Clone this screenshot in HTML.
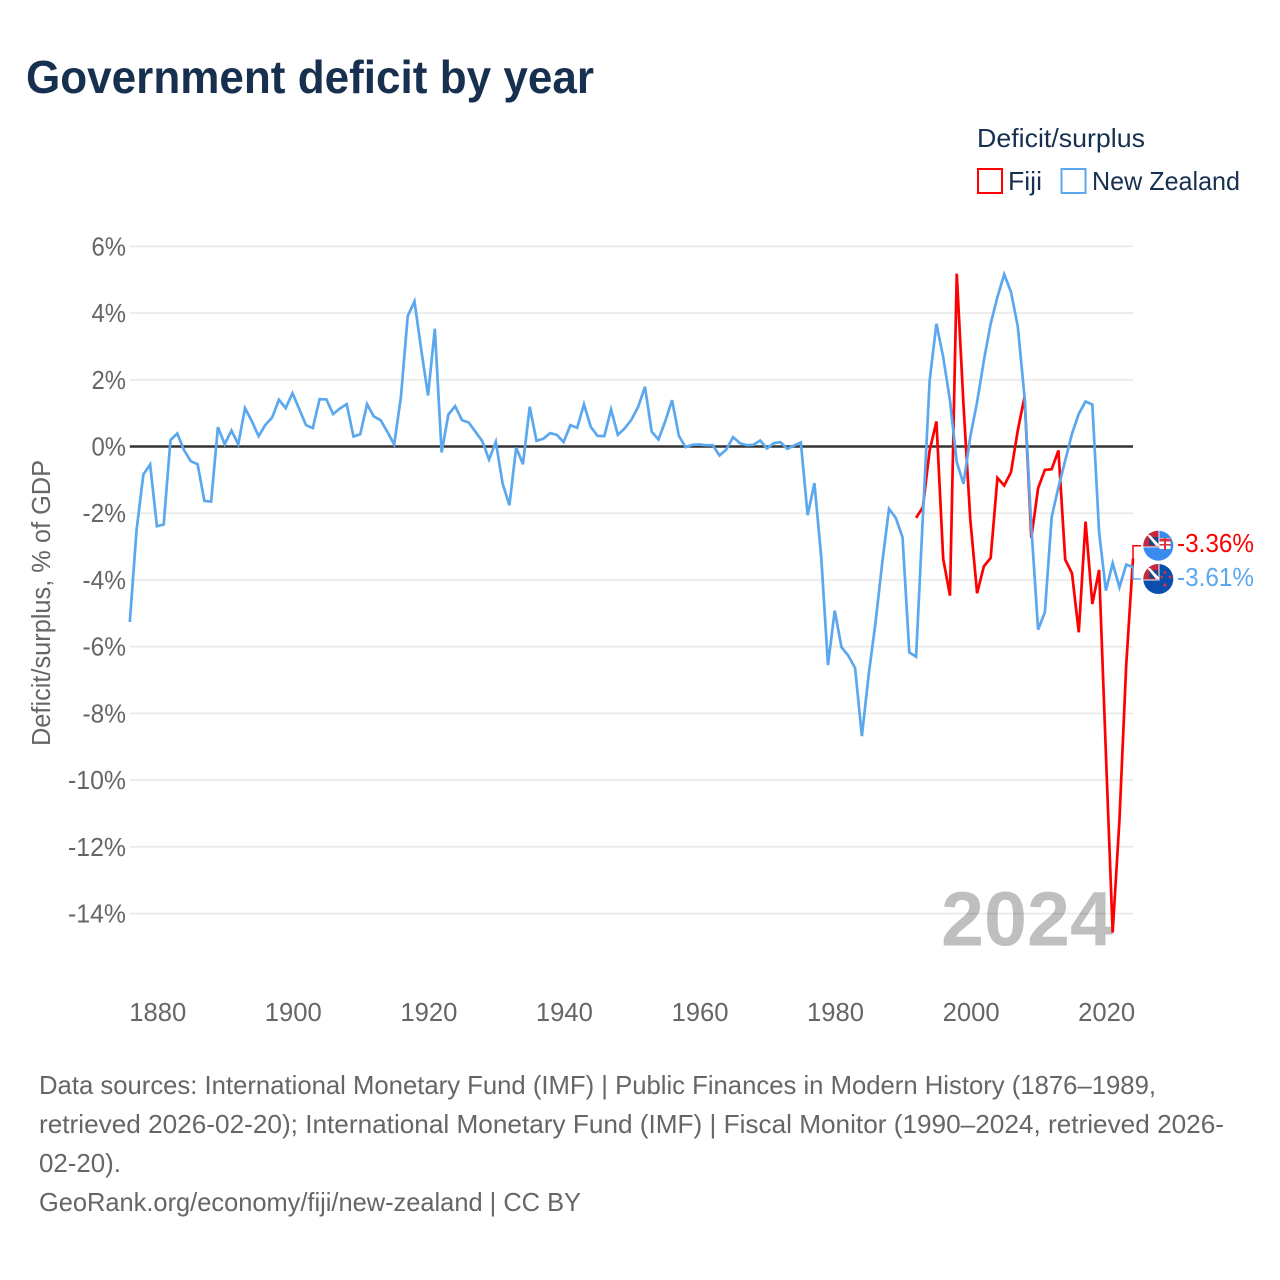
<!DOCTYPE html>
<html lang="en">
<head>
<meta charset="utf-8">
<title>Government deficit by year</title>
<style>
html,body{margin:0;padding:0;background:#fff;}
svg{display:block;font-family:"Liberation Sans",sans-serif;}
</style>
</head>
<body>
<svg id="chart" width="1280" height="1280" viewBox="0 0 1280 1280" xmlns="http://www.w3.org/2000/svg">
<defs>
<clipPath id="flag-clip-a"><circle cx="1158.300" cy="545.700" r="15"/></clipPath>
<clipPath id="flag-clip-b"><circle cx="1158.300" cy="579" r="15"/></clipPath>
</defs>
<rect width="1280" height="1280" fill="#fff"/>
<text x="26" y="93" font-size="46" font-weight="700" fill="#17304f" textLength="568" lengthAdjust="spacingAndGlyphs">Government deficit by year</text>
<text x="977" y="147" font-size="26" fill="#17304f" textLength="168" lengthAdjust="spacingAndGlyphs">Deficit/surplus</text>
<rect x="978" y="169" width="24" height="24" fill="none" stroke="#ff0000" stroke-width="2"/>
<text x="1008" y="190" font-size="26" fill="#17304f" textLength="34" lengthAdjust="spacingAndGlyphs">Fiji</text>
<rect x="1061.500" y="169" width="24" height="24" fill="none" stroke="#5ba8ef" stroke-width="2"/>
<text x="1092" y="190" font-size="26" fill="#17304f" textLength="148" lengthAdjust="spacingAndGlyphs">New Zealand</text>
<g id="grid"></g>
<g id="yticks"></g>
<g id="xticks"></g>
<text transform="translate(50 603) rotate(-90)" text-anchor="middle" font-size="25.500" fill="#666" textLength="286" lengthAdjust="spacingAndGlyphs">Deficit/surplus, % of GDP</text>
<text x="941" y="945.500" font-size="77" font-weight="700" fill="#000" fill-opacity="0.25" textLength="172" lengthAdjust="spacingAndGlyphs">2024</text>
<g id="series"></g>

<g clip-path="url(#flag-clip-a)">
<rect x="1143" y="530" width="31" height="31" fill="#3a8bf0"/>
<rect x="1143" y="530" width="16.500" height="17.500" fill="#e8f0fb"/>
<rect x="1143" y="530" width="15.500" height="16.500" fill="#c8283c"/>
<rect x="1149" y="537" width="9.500" height="8.500" fill="#23447f"/>
<polygon points="1147,535 1150,535 1158.500,544 1158.500,546 1156,546" fill="#fff"/>
<rect x="1159.500" y="538" width="11" height="11" fill="#fff"/>
<rect x="1159.500" y="538.500" width="11" height="3" fill="#d8343c"/>
<rect x="1164" y="538" width="2" height="12" fill="#d8343c"/>
<rect x="1159.500" y="544" width="11" height="1.600" fill="#d8343c"/>
</g>
<g clip-path="url(#flag-clip-b)">
<rect x="1143" y="563" width="31" height="32" fill="#0b4fae"/>
<rect x="1143" y="563" width="16.500" height="17.500" fill="#e8f0fb"/>
<rect x="1143" y="563" width="15.500" height="16.500" fill="#c8283c"/>
<rect x="1149" y="570" width="9.500" height="8.500" fill="#23447f"/>
<polygon points="1147,568 1150,568 1158.500,577 1158.500,579 1156,579" fill="#fff"/>
<circle cx="1165" cy="572.500" r="1.400" fill="#d8343c"/>
<circle cx="1161.700" cy="577" r="1.400" fill="#d8343c"/>
<circle cx="1170" cy="577" r="1.400" fill="#d8343c"/>
<circle cx="1165" cy="585" r="1.600" fill="#d8343c"/>
</g>
<text x="1177" y="552" font-size="26" fill="#ff0000" textLength="77" lengthAdjust="spacingAndGlyphs">-3.36%</text>
<text x="1177" y="586" font-size="26" fill="#5ba8ef" textLength="77" lengthAdjust="spacingAndGlyphs">-3.61%</text>

<g font-size="26" fill="#666">
<text x="39" y="1094" textLength="1117" lengthAdjust="spacingAndGlyphs">Data sources: International Monetary Fund (IMF) | Public Finances in Modern History (1876–1989,</text>
<text x="39" y="1133" textLength="1185" lengthAdjust="spacingAndGlyphs">retrieved 2026-02-20); International Monetary Fund (IMF) | Fiscal Monitor (1990–2024, retrieved 2026-</text>
<text x="39" y="1172" textLength="82" lengthAdjust="spacingAndGlyphs">02-20).</text>
<text x="39" y="1211" textLength="542" lengthAdjust="spacingAndGlyphs">GeoRank.org/economy/fiji/new-zealand | CC BY</text>
</g>
</svg>
<script>
const yTicks = [6,4,2,0,-2,-4,-6,-8,-10,-12,-14];
const yTickLabels = ["6%","4%","2%","0%","-2%","-4%","-6%","-8%","-10%","-12%","-14%"];
const xTicks = [1880,1900,1920,1940,1960,1980,2000,2020];
const nzStartYear = 1876;
const nzValues = [
-5.26,-2.50,-0.84,-0.54,-2.39,-2.34,0.19,0.39,-0.11,-0.44,
-0.53,-1.63,-1.65,0.58,0.07,0.48,0.07,1.15,0.76,0.31,
0.65,0.87,1.40,1.15,1.60,1.12,0.64,0.55,1.42,1.41,
0.97,1.14,1.27,0.30,0.37,1.27,0.90,0.79,0.44,0.06,
1.49,3.91,4.35,2.89,1.53,3.53,-0.18,0.96,1.21,0.79,
0.72,0.44,0.16,-0.39,0.14,-1.11,-1.76,-0.03,-0.53,1.19,
0.17,0.23,0.40,0.35,0.13,0.64,0.56,1.27,0.59,0.32,
0.31,1.11,0.35,0.54,0.80,1.19,1.79,0.44,0.21,0.76,
1.39,0.32,-0.02,0.05,0.06,0.04,0.04,-0.27,-0.09,0.28,
0.10,0.04,0.05,0.18,-0.06,0.10,0.13,-0.07,0.03,0.12,
-2.06,-1.10,-3.30,-6.55,-4.92,-6.02,-6.27,-6.64,-8.68,-6.85,
-5.30,-3.50,-1.87,-2.14,-2.72,-6.17,-6.30,-2.10,1.98,3.68,
2.68,1.38,-0.47,-1.12,0.30,1.33,2.58,3.68,4.48,5.16,
4.63,3.60,1.48,-2.40,-5.49,-4.97,-2.12,-1.22,-0.42,0.38,
0.98,1.35,1.26,-2.57,-4.32,-3.50,-4.22,-3.54,-3.61
];
const fijiStartYear = 1992;
const fijiValues = [
-2.14,-1.82,-0.12,0.75,-3.37,-4.47,5.18,1.22,-2.20,-4.40,
-3.59,-3.34,-0.94,-1.17,-0.77,0.48,1.50,-2.74,-1.25,-0.70,
-0.68,-0.12,-3.39,-3.80,-5.57,-2.25,-4.72,-3.70,-9.20,-14.57,
-11.20,-6.55,-3.36
];
const fijiColor = "#ff0000";
const nzColor = "#5ba8ef";
const NS = "http://www.w3.org/2000/svg";
const plotLeft = 129.8, plotRight = 1133, yearLeft = 1876, yearRight = 2024;
const zeroY = 446.5, pxPerPercent = 33.36;
function xScale(year){ return plotLeft + (year - yearLeft) * (plotRight - plotLeft) / (yearRight - yearLeft); }
function yScale(value){ return zeroY - value * pxPerPercent; }
function labelWidth(label){
  let w = 0;
  for (const c of label) w += c === '%' ? 20 : c === '-' ? 9 : 14.5;
  return w;
}
function make(tag, attrs, parent){
  const el = document.createElementNS(NS, tag);
  for (const k in attrs) el.setAttribute(k, attrs[k]);
  parent.appendChild(el);
  return el;
}
const gridG = document.getElementById('grid');
const yG = document.getElementById('yticks');
const xG = document.getElementById('xticks');
const seriesG = document.getElementById('series');
yTicks.forEach(function(v, i){
  if (v !== 0) {
    const line = make('line', {x1: plotLeft, x2: plotRight, y1: yScale(v), y2: yScale(v), stroke: '#e9e9e9', 'stroke-width': 1.6}, gridG);
    
    
  }
  const t = make('text', {x: 126, y: yScale(v) + 9, 'text-anchor': 'end', 'font-size': 26, fill: '#666', textLength: labelWidth(yTickLabels[i]), lengthAdjust: 'spacingAndGlyphs'}, yG);
  
  
  t.textContent = yTickLabels[i];
});
xTicks.forEach(function(y){
  const t = make('text', {x: xScale(y) + 0.8, y: 1021, 'text-anchor': 'middle', 'font-size': 26, fill: '#666', textLength: 57, lengthAdjust: 'spacingAndGlyphs'}, xG);
  
  
  t.textContent = String(y);
});
const zero = make('line', {x1: plotLeft, x2: plotRight, y1: yScale(0), y2: yScale(0), stroke: '#333', 'stroke-width': 2.6}, gridG);


function linePoints(start, values){
  return values.map(function(v, i){ return xScale(start + i).toFixed(2) + ',' + yScale(v).toFixed(2); }).join(' ');
}
const fijiLine = make('polyline', {points: linePoints(fijiStartYear, fijiValues), fill: 'none', stroke: fijiColor, 'stroke-width': 2.7, 'stroke-linejoin': 'miter'}, seriesG);


const nzLine = make('polyline', {points: linePoints(nzStartYear, nzValues), fill: 'none', stroke: nzColor, 'stroke-width': 2.7, 'stroke-linejoin': 'miter'}, seriesG);


const fijiEnd = yScale(fijiValues[fijiValues.length - 1]);
const nzEnd = yScale(nzValues[nzValues.length - 1]);
const fijiConn = make('polyline', {points: plotRight + ',' + fijiEnd + ' ' + plotRight + ',545.7 1141,545.7', fill: 'none', stroke: fijiColor, 'stroke-width': 1.5}, seriesG);


const nzConn = make('polyline', {points: plotRight + ',' + nzEnd + ' ' + plotRight + ',579 1141,579', fill: 'none', stroke: nzColor, 'stroke-width': 1.5}, seriesG);


</script>
</body>
</html>
